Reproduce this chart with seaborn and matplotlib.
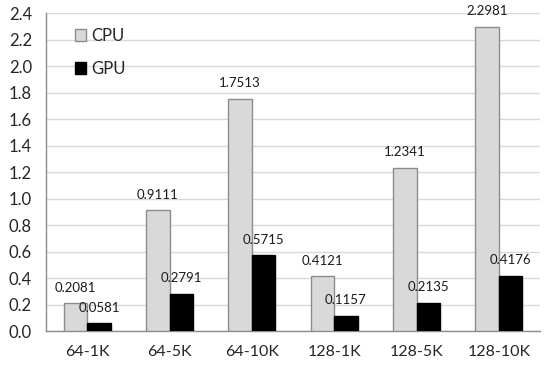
import numpy as np
import pandas as pd
import matplotlib
matplotlib.use("Agg")
import matplotlib.pyplot as plt
import seaborn as sns

# 数据
categories = ['64-1K', '64-5K', '64-10K', '128-1K', '128-5K', '128-10K']
cpu_values = [0.2081, 0.9111, 1.7513, 0.4121, 1.2341, 2.2981]
gpu_values = [0.0581, 0.2791, 0.5715, 0.1157, 0.2135, 0.4176]
y_ticks = [0.0, 0.2, 0.4, 0.6, 0.8, 1.0, 1.2, 1.4, 1.6, 1.8, 2.0, 2.2, 2.4]

df = pd.DataFrame({
    'case': categories * 2,
    'time': cpu_values + gpu_values,
    'device': ['CPU'] * len(categories) + ['GPU'] * len(categories),
})

sns.set_style("white")
plt.rcParams['font.family'] = ['Lato', 'DejaVu Sans']

fig = plt.figure(figsize=(5.5, 3.67), dpi=100)
ax = fig.add_axes([46 / 550, 1 - 331 / 367, 494 / 550, (331 - 13.3) / 367])

edge_colors = ['#8c8c8c', '#000000']
sns.barplot(data=df, x='case', y='time', hue='device', order=categories,
            hue_order=['CPU', 'GPU'], palette=['#d9d9d9', '#000000'],
            width=0.57, ax=ax, zorder=3)

# 边框颜色 + 数值标签
for container, ec in zip(ax.containers, edge_colors):
    for bar in container:
        bar.set_edgecolor(ec)
        bar.set_linewidth(1.0)
    ax.bar_label(container, fmt='%.4f', padding=7, fontsize=9.5, color='#1a1a1a')

ax.set_ylim(0, 2.4)
ax.set_xlim(-0.5, len(categories) - 0.5)
ax.set_yticks(y_ticks)
ax.set_yticklabels([f'{t:.1f}' for t in y_ticks], fontsize=12)
ax.tick_params(axis='x', which='major', length=0, labelsize=11.5, pad=10)
ax.set_xticks(np.arange(-0.5, len(categories)), minor=True)
ax.tick_params(axis='x', which='minor', length=5, color='#8c8c8c', direction='out')
ax.tick_params(axis='y', length=5, color='#8c8c8c', direction='out', pad=5)
ax.set_xlabel('')
ax.set_ylabel('')

ax.yaxis.grid(True, color='#d9d9d9', linewidth=1.0, zorder=0)
ax.set_axisbelow(True)
sns.despine(ax=ax, top=True, right=True)
for s in ['left', 'bottom']:
    ax.spines[s].set_color('#8c8c8c')
    ax.spines[s].set_linewidth(1.0)

sns.move_legend(ax, 'upper left', bbox_to_anchor=(0.058, 0.955), frameon=False,
                title=None, fontsize=12, handlelength=0.7, handleheight=0.7,
                labelspacing=1.05, handletextpad=0.3, borderpad=0, borderaxespad=0)
leg = ax.get_legend()
for h, ec in zip(leg.legend_handles, edge_colors):
    h.set_edgecolor(ec)
    h.set_linewidth(1.0)

fig.savefig('out.png', dpi=100)
